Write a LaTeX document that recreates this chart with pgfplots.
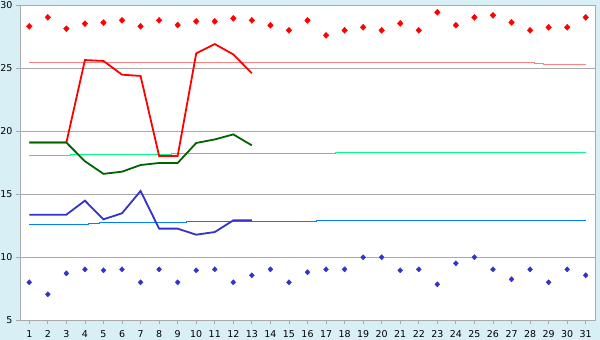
\documentclass[border=0pt]{standalone}
\usepackage{fontspec}
\setmainfont{DejaVu Sans}
\usepackage{pgfplots}
\pgfplotsset{compat=1.18}
\definecolor{bgc}{HTML}{D9EFF6}
\definecolor{gridc}{HTML}{AAAAAA}
\definecolor{pinkc}{HTML}{FF8080}
\definecolor{lgreen}{HTML}{00FF80}
\definecolor{dgreen}{HTML}{006400}
\definecolor{dblue}{HTML}{3333CC}
\definecolor{lblue}{HTML}{0080FF}
\begin{document}
\begin{tikzpicture}
\fill[bgc] (0,0) rectangle (600bp,340bp);
\useasboundingbox (0,0) rectangle (600bp,340bp);
\begin{axis}[
  at={(20bp,20bp)}, anchor=south west, scale only axis,
  width=575bp, height=315bp,
  xmin=0.5, xmax=31.5, ymin=5, ymax=30,
  xtick={1,...,31}, ytick={5,10,...,30},
  xtick pos=left, ytick pos=left,
  ymajorgrids, grid style={gridc, line width=0.8bp},
  axis line style={gridc, line width=0.9bp},
  tick style={gridc, line width=0.8bp},
  tick align=outside, major tick length=4bp,
  axis background/.style={fill=white},
  tick label style={font=\fontsize{9.5}{10}\selectfont, text=black},
  xticklabel style={yshift=-3bp},
  /pgf/number format/assume math mode=true,
]
% normal lines (thin)
\addplot[pinkc, line width=0.9bp] coordinates {(1,25.45) (28.25,25.45) (28.25,25.37) (28.74,25.37) (28.74,25.29) (31,25.29)};
\addplot[lgreen, line width=0.9bp] coordinates {(1,18.02) (3.23,18.02) (3.23,18.17) (8.68,18.17) (8.68,18.25) (17.48,18.25) (17.48,18.31) (31,18.31)};
\addplot[lblue, line width=0.9bp] coordinates {(1,12.62) (4.17,12.62) (4.17,12.67) (4.77,12.67) (4.77,12.75) (9.49,12.75) (9.49,12.83) (16.49,12.83) (16.49,12.91) (31,12.91)};
% thick lines
\addplot[red, line width=1.8bp] coordinates {(1,19.08) (2,19.08) (3,19.08) (4,25.63) (5,25.56) (6,24.47) (7,24.37) (8,18.02) (9,18.02) (10,26.16) (11,26.9) (12,26.08) (13,24.58)};
\addplot[dgreen, line width=1.8bp] coordinates {(1,19.08) (2,19.08) (3,19.08) (4,17.6) (5,16.6) (6,16.77) (7,17.3) (8,17.46) (9,17.46) (10,19.05) (11,19.33) (12,19.73) (13,18.86)};
\addplot[dblue, line width=1.8bp] coordinates {(1,13.36) (2,13.36) (3,13.36) (4,14.47) (5,12.99) (6,13.47) (7,15.24) (8,12.25) (9,12.25) (10,11.77) (11,11.98) (12,12.91) (13,12.91)};
% markers
\addplot[only marks, mark=diamond*, mark size=3bp, red, mark options={fill=red, xscale=1.25}] coordinates {
(1,28.31) (2,29.02) (3,28.12) (4,28.52) (5,28.6) (6,28.78) (7,28.31) (8,28.78) (9,28.41) (10,28.7)
(11,28.7) (12,28.94) (13,28.78) (14,28.39) (15,27.99) (16,28.78) (17,27.59) (18,27.99) (19,28.23) (20,27.99)
(21,28.54) (22,27.99) (23,29.42) (24,28.39) (25,29.02) (26,29.18) (27,28.62) (28,27.99) (29,28.23) (30,28.23) (31,29.02)};
\addplot[only marks, mark=diamond*, mark size=2.6bp, dblue, mark options={fill=dblue, xscale=1.25}] coordinates {
(1,7.99) (2,7.04) (3,8.7) (4,9.02) (5,8.94) (6,9.02) (7,7.99) (8,9.02) (9,7.99) (10,8.94)
(11,9.02) (12,7.99) (13,8.55) (14,9.02) (15,7.99) (16,8.79) (17,9.02) (18,9.02) (19,9.98) (20,9.98)
(21,8.94) (22,9.02) (23,7.83) (24,9.5) (25,9.98) (26,9.02) (27,8.23) (28,9.02) (29,7.99) (30,9.02) (31,8.55)};
\end{axis}
\end{tikzpicture}
\end{document}
